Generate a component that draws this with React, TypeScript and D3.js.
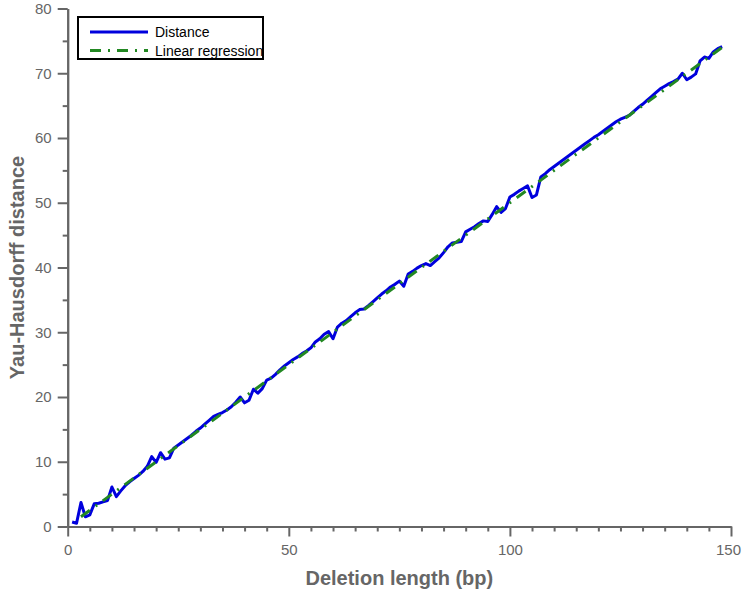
import React, { useEffect, useRef } from 'react';
import * as d3 from 'd3';

// deletion length in bp, one point per length
const deletionLength: number[] = d3.range(1, 149);

// Yau-Hausdorff distance
const distance: number[] = [
  0.7, 0.5, 3.7, 1.5, 1.8, 3.5, 3.6, 3.8, 4.0, 6.1,
  4.6, 5.5, 6.3, 6.9, 7.4, 7.9, 8.5, 9.3, 10.8, 9.9,
  11.4, 10.4, 10.6, 12.1, 12.6, 13.1, 13.6, 14.1, 14.7, 15.2,
  15.8, 16.4, 17.0, 17.3, 17.6, 18.0, 18.5, 19.2, 20.0, 19.1,
  19.5, 21.2, 20.6, 21.3, 22.6, 22.9, 23.5, 24.2, 24.8, 25.3,
  25.8, 26.2, 26.7, 27.1, 27.6, 28.5, 29.0, 29.7, 30.1, 29.0,
  30.8, 31.4, 31.8, 32.4, 33.0, 33.5, 33.6, 34.1, 34.7, 35.3,
  35.9, 36.4, 37.0, 37.4, 37.9, 37.1, 39.0, 39.4, 39.9, 40.3,
  40.6, 40.3, 40.9, 41.5, 42.3, 43.2, 43.8, 43.9, 44.0, 45.5,
  45.9, 46.3, 46.8, 47.2, 47.1, 48.2, 49.4, 48.5, 49.1, 50.9,
  51.3, 51.8, 52.2, 52.6, 50.8, 51.2, 54.0, 54.5, 55.1, 55.6,
  56.1, 56.6, 57.1, 57.6, 58.1, 58.6, 59.1, 59.6, 60.1, 60.5,
  61.0, 61.5, 62.0, 62.5, 62.9, 63.2, 63.5, 64.1, 64.7, 65.2,
  65.8, 66.4, 67.0, 67.6, 68.0, 68.4, 68.7, 69.1, 70.0, 69.0,
  69.4, 69.9, 71.9, 72.5, 72.3, 73.3, 73.8, 74.1
];

// fitted line, end points
const regressionX: number[] = [3, 148];
const regressionY: number[] = [1.5, 74.0];

const xMajorTicks = [0, 50, 100, 150];
const yMajorTicks = [0, 10, 20, 30, 40, 50, 60, 70, 80];

const legendItems = [
  { label: 'Distance', color: '#0000dd', dash: 'none' },
  { label: 'Linear regression', color: '#228822', dash: '11,7,2,7' }
];

const width = 742;
const height = 593;
const left = 67.7;
const right = 731;
const top = 8.5;
const bottom = 526.5;
const axisColor = '#666';
const font = 'Arial, "Liberation Sans", sans-serif';

export default function App() {
  const xAxisRef = useRef<SVGGElement>(null);
  const yAxisRef = useRef<SVGGElement>(null);

  const x = d3.scaleLinear().domain([0, 150]).range([left, right]);
  const y = d3.scaleLinear().domain([0, 80]).range([bottom, top]);

  useEffect(() => {
    const xNode = d3.select(xAxisRef.current);
    xNode.selectAll('*').remove();
    const xMinor = d3.range(0, 151, 5).filter(v => v % 50 !== 0);
    xNode.append('g').call(d3.axisBottom(x).tickValues(xMinor).tickSize(5).tickSizeOuter(0).tickFormat(() => ''));
    xNode.append('g').call(d3.axisBottom(x).tickValues(xMajorTicks).tickSize(10).tickSizeOuter(0).tickPadding(8).tickFormat(d3.format('d')));

    const yNode = d3.select(yAxisRef.current);
    yNode.selectAll('*').remove();
    const yMinor = d3.range(5, 80, 10);
    yNode.append('g').call(d3.axisLeft(y).tickValues(yMinor).tickSize(5).tickSizeOuter(0).tickFormat(() => ''));
    yNode.append('g').call(d3.axisLeft(y).tickValues(yMajorTicks).tickSize(10).tickSizeOuter(0).tickPadding(6).tickFormat(d3.format('d')));

    [xNode, yNode].forEach(node => {
      node.selectAll('path.domain').attr('stroke', axisColor).attr('stroke-width', 2);
      node.selectAll('line').attr('stroke', axisColor).attr('stroke-width', 2);
      node.selectAll('text')
        .attr('fill', axisColor)
        .style('font-family', font)
        .style('font-size', '15px');
    });
    // keep the last x label inside the window
    xNode.selectAll('text').filter(d => d === 150).attr('dx', '-3');
  }, []);

  const distanceLine = d3.line<number>()
    .x((d, i) => x(deletionLength[i]))
    .y(d => y(d));

  const regressionLine = d3.line<number>()
    .x((d, i) => x(regressionX[i]))
    .y(d => y(d));

  return (
    <div style={{ position: 'absolute', left: 0, top: 0 }}>
      <svg width={width} height={height} style={{ display: 'block', background: '#fff' }}>
        <g ref={xAxisRef} transform={`translate(0, ${bottom})`}></g>
        <g ref={yAxisRef} transform={`translate(${left}, 0)`}></g>

        <path d={distanceLine(distance) || ''} fill="none" stroke={legendItems[0].color}
          strokeWidth={3} strokeLinejoin="round" />
        <path d={regressionLine(regressionY) || ''} fill="none" stroke={legendItems[1].color}
          strokeWidth={3} strokeDasharray={legendItems[1].dash} />

        <text x={(left + right) / 2} y={585} textAnchor="middle" fill={axisColor}
          fontFamily={font} fontSize={20} fontWeight="bold">Deletion length (bp)</text>
        <text transform={`translate(24, ${(top + bottom) / 2}) rotate(-90)`} textAnchor="middle"
          fill={axisColor} fontFamily={font} fontSize={20} fontWeight="bold">Yau-Hausdorff distance</text>

        <g>
          <rect x={78} y={17} width={185} height={42} fill="#fff" stroke="#000" strokeWidth={2} />
          {legendItems.map((item, i) => (
            <g key={item.label}>
              <line x1={90} x2={148} y1={32 + i * 18.5} y2={32 + i * 18.5} stroke={item.color}
                strokeWidth={3} strokeDasharray={item.dash} />
              <text x={155} y={37 + i * 18.5} fontFamily={font} fontSize={14} fill="#000">{item.label}</text>
            </g>
          ))}
        </g>
      </svg>
    </div>
  );
}
